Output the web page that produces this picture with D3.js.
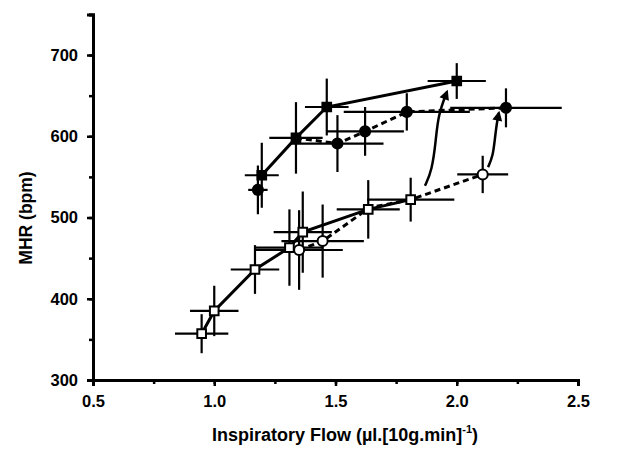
<!DOCTYPE html>
<html>
<head>
<meta charset="utf-8">
<script src="https://cdn.jsdelivr.net/npm/d3@7"></script>
<style>
  body { margin: 0; background: #fff; }
  text { font-family: "Liberation Sans", Arial, sans-serif; font-weight: bold; fill: #000; }
</style>
</head>
<body>
<svg id="chart" width="636" height="449"></svg>
<script>
// x = inspiratory flow, y = MHR, xe / ye = error bar half-lengths
var openSolid = [
  { x: 0.948, y: 357, xe: 0.11, ye: 24 },
  { x: 1.00, y: 385, xe: 0.10, ye: 31 },
  { x: 1.168, y: 436, xe: 0.10, ye: 30 },
  { x: 1.31, y: 463, xe: 0.14, ye: 47 },
  { x: 1.365, y: 482, xe: 0.12, ye: 50 },
  { x: 1.635, y: 510, xe: 0.13, ye: 36 },
  { x: 1.81, y: 522, xe: 0.18, ye: 27 }
];
var openDashed = [
  { x: 1.35, y: 460, xe: 0.18, ye: 49 },
  { x: 1.447, y: 471, xe: 0.17, ye: 45 },
  { x: 1.64, y: 512, xe: 0.0, ye: 0 },
  { x: 1.81, y: 522, xe: 0.0, ye: 0 },
  { x: 2.107, y: 553, xe: 0.105, ye: 23 }
];
var filledSolid = [
  { x: 1.196, y: 552, xe: 0.07, ye: 40 },
  { x: 1.337, y: 598, xe: 0.11, ye: 44 },
  { x: 1.464, y: 636, xe: 0.09, ye: 35 },
  { x: 2.0, y: 668, xe: 0.12, ye: 22 }
];
var filledDashed = [
  { x: 1.337, y: 598, xe: 0, ye: 0 },
  { x: 1.508, y: 591, xe: 0.19, ye: 35 },
  { x: 1.622, y: 606, xe: 0.16, ye: 30 },
  { x: 1.794, y: 630, xe: 0.26, ye: 23 },
  { x: 2.203, y: 635, xe: 0.23, ye: 24 }
];
var filledSingle = [
  { x: 1.18, y: 534, xe: 0.04, ye: 30 }
];
// curved arrows, open end point -> filled end point
var arrow1 = [[1.869, 539], [1.898, 558], [1.914, 595], [1.923, 626], [1.96, 655]];
var arrow2 = [[2.129, 562], [2.149, 575], [2.158, 599], [2.166, 618], [2.174, 629]];

var xTicks = [0.5, 1.0, 1.5, 2.0, 2.5];
var yTicks = [300, 400, 500, 600, 700];

var svg = d3.select('#chart');
var x = d3.scaleLinear().domain([0.5, 2.5]).range([93, 578]);
var y = d3.scaleLinear().domain([300, 750]).range([380, 14.4]);

// minor ticks
var xAxisMinor = d3.axisBottom(x).tickValues(d3.range(0.5, 2.51, 0.25)).tickSize(4).tickFormat('');
var yAxisMinor = d3.axisLeft(y).tickValues(d3.range(300, 751, 50)).tickSize(4).tickFormat('');
svg.append('g').attr('transform', 'translate(0,380)').call(xAxisMinor);
svg.append('g').attr('transform', 'translate(93,0)').call(yAxisMinor);

var xAxis = d3.axisBottom(x).tickValues(xTicks).tickSize(6).tickPadding(9).tickFormat(d3.format('.1f'));
var yAxis = d3.axisLeft(y).tickValues(yTicks).tickSize(6).tickPadding(9);
var gx = svg.append('g').attr('transform', 'translate(0,380)').call(xAxis);
var gy = svg.append('g').attr('transform', 'translate(93,0)').call(yAxis);

svg.selectAll('.domain').attr('stroke', '#000').attr('stroke-width', 3);
svg.selectAll('.tick line').attr('stroke', '#000').attr('stroke-width', 2.5);
gx.selectAll('text').style('font-size', '16.5px').style('font-family', '"Liberation Sans", Arial, sans-serif').style('font-weight', 'bold');
gy.selectAll('text').style('font-size', '16.5px').style('font-family', '"Liberation Sans", Arial, sans-serif').style('font-weight', 'bold');

// axis titles
var xt = svg.append('text').attr('x', 345).attr('y', 441).attr('text-anchor', 'middle').style('font-size', '18px');
xt.append('tspan').text('Inspiratory Flow (\u00b5l.[10g.min]');
xt.append('tspan').attr('dy', -8).style('font-size', '11px').text('-1');
xt.append('tspan').attr('dy', 8).text(')');

svg.append('text')
  .attr('transform', 'translate(32,218) rotate(-90)')
  .attr('text-anchor', 'middle')
  .style('font-size', '17.5px')
  .text('MHR (bpm)');

// error bars
function errorBars(data) {
  var g = svg.append('g').attr('stroke', '#000').attr('stroke-width', 2.2);
  g.selectAll('.eh').data(data.filter(d => d.xe > 0)).enter().append('line')
    .attr('x1', d => x(d.x - d.xe)).attr('x2', d => x(d.x + d.xe))
    .attr('y1', d => y(d.y)).attr('y2', d => y(d.y));
  g.selectAll('.ev').data(data.filter(d => d.ye > 0)).enter().append('line')
    .attr('x1', d => x(d.x)).attr('x2', d => x(d.x))
    .attr('y1', d => y(d.y - d.ye)).attr('y2', d => y(d.y + d.ye));
}
[openSolid, openDashed, filledSolid, filledDashed, filledSingle].forEach(errorBars);

var line = d3.line().x(d => x(d.x)).y(d => y(d.y));
function drawLine(data, dashed) {
  svg.append('path').datum(data).attr('d', line)
    .attr('fill', 'none').attr('stroke', '#000').attr('stroke-width', 3)
    .attr('stroke-dasharray', dashed ? '6,4' : null);
}
drawLine(filledSolid, false);
drawLine(filledDashed, true);
drawLine(openSolid, false);
drawLine(openDashed, true);

// arrows
svg.append('defs').append('marker')
  .attr('id', 'head').attr('viewBox', '0 0 10 10').attr('refX', 8).attr('refY', 5)
  .attr('markerWidth', 4.5).attr('markerHeight', 4).attr('orient', 'auto')
  .append('path').attr('d', 'M0,0L10,5L0,10z').attr('fill', '#000');
var curve = d3.line().x(d => x(d[0])).y(d => y(d[1])).curve(d3.curveBasis);
[arrow1, arrow2].forEach(function (a) {
  svg.append('path').datum(a).attr('d', curve)
    .attr('fill', 'none').attr('stroke', '#000').attr('stroke-width', 2.5)
    .attr('marker-end', 'url(#head)');
});

// markers
function points(data, filled, square) {
  var sym = d3.symbol().type(square ? d3.symbolSquare : d3.symbolCircle).size(square ? 75 : 80);
  svg.append('g').selectAll('path').data(data.filter(d => d.xe > 0 || d.ye > 0)).enter().append('path')
    .attr('d', sym)
    .attr('transform', d => 'translate(' + x(d.x) + ',' + y(d.y) + ')')
    .attr('fill', filled ? '#000' : '#fff')
    .attr('stroke', '#000').attr('stroke-width', 2);
}
points(openSolid, false, true);
points(openDashed, false, false);
points(filledSolid, true, true);
points(filledDashed, true, false);
points(filledSingle, true, false);
</script>
</body>
</html>
